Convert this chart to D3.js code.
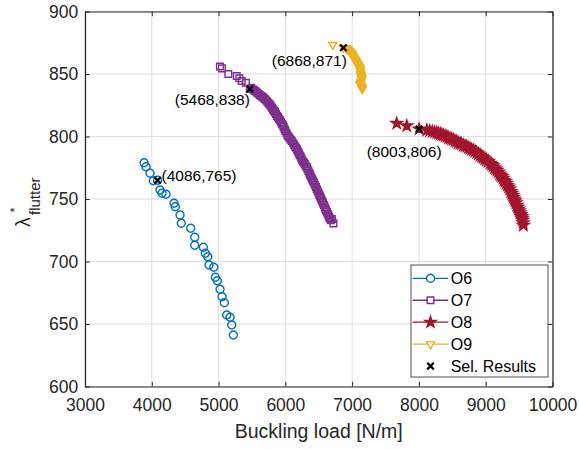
<!DOCTYPE html>
<html>
<head>
<meta charset="utf-8">
<script src="https://cdn.jsdelivr.net/npm/d3@7"></script>
<style>
  body { margin: 0; background: #fff; }
  svg { display: block; font-family: "Liberation Sans", Arial, Helvetica, sans-serif; }
</style>
</head>
<body>
<svg id="chart" width="579" height="449"></svg>
<script>
// Pareto fronts: buckling load [N/m] vs. flutter parameter, per optimisation case
const o6 = [
  [3884,779],[3914,775.8],[3974,770.6],[4023,764.6],[4086,765],[4123,757.2],[4153,754.6],
  [4213,753.8],[4333,746.6],[4352,743.8],[4423,737.2],[4442,730.6],[4583,726.6],[4643,719.4],
  [4643,713],[4772,711.4],[4802,706.6],[4838,703.8],[4857,697.2],[4928,695.4],[4952,687.4],
  [4981,684.6],[5022,677.8],[5052,671.8],[5086,667],[5122,657.2],[5172,655.4],[5197,649.2],
  [5221,641.2]
];
const o7 = [
  [5020,856],[5050,854.5],[5146,850],[5272,848.4],[5311,846.6],[5347,844.4],[5411,843],
  [5468,838],[5490,839],[5520,837.5],[5540,836.5],[5560,836],[5580,835],[5600,834],
  [5620,833],[5640,832.5],[5658,831.5],[5675,831],[5692,830],[5710,829],[5728,828],
  [5745,827],[5760,826],[5775,825],[5788,824],[5800,823],[5815,821.5],[5830,820.5],
  [5845,819.5],[5860,818],[5875,816.5],[5890,815.5],[5905,814],[5920,813],[5935,811.5],
  [5950,810],[5962,809],[5975,807.5],[5988,806],[6000,804.5],[6015,803],[6030,801],
  [6045,800],[6060,799],[6078,797.5],[6095,796.5],[6112,795],[6130,793.5],[6145,792],
  [6160,791],[6175,789.5],[6190,788],[6203,786.5],[6215,785],[6228,784],[6240,782.5],
  [6252,781],[6265,780],[6278,779],[6290,778],[6305,776.5],[6320,775.5],[6332,774],
  [6345,772.5],[6358,771],[6370,769.5],[6382,768],[6395,766.5],[6408,765],[6420,764],
  [6432,762.5],[6445,761],[6458,759.5],[6470,758],[6482,756.5],[6495,755],[6508,753.5],
  [6520,752],[6532,750.5],[6545,749],[6555,748],[6565,746.5],[6578,745],[6590,743.5],
  [6600,742],[6610,741],[6622,739.5],[6635,738],[6645,737],[6655,735.5],[6668,734.5],
  [6680,733],[6697,734],[6720,730.5]
];
const o8 = [
  [7668,810.5],[7818,808.5],[8003,806],[8118,805],[8160,804.5],[8200,804],[8235,803.5],
  [8268,803],[8295,802.5],[8320,802],[8343,801.5],[8366,801],[8393,800.5],[8420,800],
  [8443,799],[8467,798.5],[8490,798],[8515,797.5],[8540,796.5],[8565,796],[8590,795],
  [8616,794.5],[8640,794],[8665,793],[8690,792.5],[8715,792],[8740,791],[8766,790.5],
  [8790,789.5],[8815,789],[8840,788],[8865,787],[8890,786],[8916,785],[8938,784],
  [8960,783],[8985,782],[9010,781],[9038,780],[9066,778.5],[9088,777.5],[9110,776.5],
  [9130,775],[9150,774],[9170,773],[9190,771.5],[9208,770],[9225,769],[9243,768],
  [9260,766.5],[9275,765],[9290,764],[9308,762.5],[9325,761],[9343,759.5],[9360,758],
  [9375,756],[9391,754.5],[9403,753],[9415,751.5],[9428,750],[9440,748.5],[9453,747],
  [9466,745],[9478,743.5],[9490,742],[9503,740.5],[9515,739],[9528,737.5],[9541,736],
  [9548,734.5],[9555,733],[9560,731],[9565,729]
];
const o9 = [
  [6710,873.4],[6868,871],[6909,870.8],[6925,870],[6940,869.5],[6958,868.5],[6970,868],
  [6980,867],[6994,866],[7000,865.5],[7010,864.5],[7018,863.5],[7030,862.5],[7040,861.5],
  [7050,861],[7059,860],[7068,859],[7075,858.5],[7085,857.5],[7093,857],[7100,856],
  [7110,855.5],[7115,854.5],[7119,854],[7122,853],[7125,852],[7129,850],[7132,849],
  [7138,848],[7141,847],[7144,846],[7135,844],[7128,843],[7119,842],[7130,841],
  [7140,840],[7148,839],[7152,838]
];
const selected = [[4086,765],[5468,838],[6868,871],[8003,806]];

const seriesNames = ["O6","O7","O8","O9"];
const selectedName = "Sel. Results";
const xTicks = [3000,4000,5000,6000,7000,8000,9000,10000];
const yTicks = [600,650,700,750,800,850,900];
const xLabel = "Buckling load [N/m]";

// Styles
const colors = ["#0072BD","#7E2F8E","#A2142F","#EDB120"];
const markerFill = ["none","none","#A2142F","none"];
const axisColor = "#262626";
const plot = { left: 85, top: 11.5, right: 552.5, bottom: 386.5 };

const svg = d3.select("#chart");
const x = d3.scaleLinear().domain([3000,10000]).range([plot.left, plot.right]);
const y = d3.scaleLinear().domain([600,900]).range([plot.bottom, plot.top]);

// Grid
const grid = svg.append("g").attr("stroke", "#dfdfdf").attr("stroke-width", 1);
grid.selectAll("line.vx").data(xTicks).join("line")
  .attr("x1", d => x(d)).attr("x2", d => x(d))
  .attr("y1", plot.top).attr("y2", plot.bottom);
grid.selectAll("line.hy").data(yTicks).join("line")
  .attr("y1", d => y(d)).attr("y2", d => y(d))
  .attr("x1", plot.left).attr("x2", plot.right);

// Axes (ticks pointing inward on all four sides)
const tickLen = 4.7;
const styleAxis = g => {
  g.select(".domain").attr("stroke", axisColor).attr("stroke-width", 1.2);
  g.selectAll(".tick line").attr("stroke", axisColor).attr("stroke-width", 1);
  g.selectAll(".tick text").attr("fill", axisColor).attr("font-size", "17.5px")
    .attr("font-family", '"Liberation Sans", Arial, Helvetica, sans-serif');
};
svg.append("g").attr("transform", `translate(0,${plot.bottom})`)
  .call(d3.axisBottom(x).tickValues(xTicks).tickFormat(d3.format("d"))
    .tickSizeInner(-tickLen).tickSizeOuter(0).tickPadding(12.5))
  .call(styleAxis);
svg.append("g").attr("transform", `translate(0,${plot.top})`)
  .call(d3.axisTop(x).tickValues(xTicks).tickFormat("")
    .tickSizeInner(-tickLen).tickSizeOuter(0))
  .call(styleAxis);
svg.append("g").attr("transform", `translate(${plot.left},0)`)
  .call(d3.axisLeft(y).tickValues(yTicks).tickFormat(d3.format("d"))
    .tickSizeInner(-tickLen).tickSizeOuter(0).tickPadding(6.7))
  .call(styleAxis);
svg.append("g").attr("transform", `translate(${plot.right},0)`)
  .call(d3.axisRight(y).tickValues(yTicks).tickFormat("")
    .tickSizeInner(-tickLen).tickSizeOuter(0))
  .call(styleAxis);

// Axis labels
svg.append("text")
  .attr("x", (plot.left + plot.right) / 2).attr("y", 438.3)
  .attr("text-anchor", "middle").attr("font-size", "19.5px").attr("fill", axisColor)
  .text(xLabel);

const yl = svg.append("g").attr("transform", "translate(30,227) rotate(-90)").attr("fill", axisColor);
yl.append("text").attr("x", 0).attr("y", 0).attr("font-size", "19.5px").text("λ");
yl.append("text").attr("x", 12).attr("y", 10).attr("font-size", "15px").text("flutter");
yl.append("text").attr("x", 14.5).attr("y", -11).attr("font-size", "13px").text("*");

// Marker shapes
const markerPath = [
  d3.symbol(d3.symbolCircle, 50.3)(),
  d3.symbol(d3.symbolSquare, 44)(),
  d3.symbol(d3.symbolStar, 40)(),
  d3.symbol(d3.symbolTriangle, 27.7)()
];
const markerRotate = [0, 0, 0, 180];
const crossPath = "M-3.3,-3.3L3.3,3.3M-3.3,3.3L3.3,-3.3";

const seriesData = [o6, o7, o8, o9];
seriesData.forEach((data, i) => {
  svg.append("g").selectAll("path").data(data).join("path")
    .attr("d", markerPath[i])
    .attr("transform", d => `translate(${x(d[0])},${y(d[1])}) rotate(${markerRotate[i]})`)
    .attr("fill", markerFill[i]).attr("stroke", colors[i]).attr("stroke-width", 1.4);
});

// Selected designs
svg.append("g").selectAll("path").data(selected).join("path")
  .attr("d", crossPath)
  .attr("transform", d => `translate(${x(d[0])},${y(d[1])})`)
  .attr("fill", "none").attr("stroke", "#000").attr("stroke-width", 2.2);

// Annotations for selected designs: [dx, dy, anchor]
const annotOffsets = [[4, -5, "start"], [0, 11, "end"], [3.5, 13, "end"], [-15, 22.5, "middle"]];
svg.append("g").selectAll("text").data(selected).join("text")
  .attr("x", (d, i) => x(d[0]) + annotOffsets[i][0])
  .attr("y", (d, i) => y(d[1]) + annotOffsets[i][1])
  .attr("dy", "0.35em")
  .attr("text-anchor", (d, i) => annotOffsets[i][2])
  .attr("font-size", "15.5px").attr("fill", "#000")
  .text(d => `(${d[0]},${d[1]})`);

// Legend
const lg = svg.append("g");
lg.append("rect").attr("x", 411).attr("y", 265).attr("width", 137).attr("height", 112)
  .attr("fill", "#fff").attr("stroke", axisColor).attr("stroke-width", 0.8);
const rowY = i => 278.3 + i * 21.95;
seriesNames.forEach((name, i) => {
  lg.append("line").attr("x1", 412.7).attr("x2", 448.3)
    .attr("y1", rowY(i)).attr("y2", rowY(i))
    .attr("stroke", colors[i]).attr("stroke-width", 1.3);
  lg.append("path").attr("d", markerPath[i])
    .attr("transform", `translate(430.5,${rowY(i)}) rotate(${markerRotate[i]})`)
    .attr("fill", markerFill[i] === "none" ? "#fff" : markerFill[i])
    .attr("stroke", colors[i]).attr("stroke-width", 1.4);
  lg.append("text").attr("x", 450.7).attr("y", rowY(i)).attr("dy", "0.35em")
    .attr("font-size", "16px").attr("fill", "#000").text(name);
});
lg.append("path").attr("d", crossPath)
  .attr("transform", `translate(430.5,${rowY(4)})`)
  .attr("fill", "none").attr("stroke", "#000").attr("stroke-width", 2.2);
lg.append("text").attr("x", 450.7).attr("y", rowY(4)).attr("dy", "0.35em")
  .attr("font-size", "16px").attr("fill", "#000").text(selectedName);
</script>
</body>
</html>
